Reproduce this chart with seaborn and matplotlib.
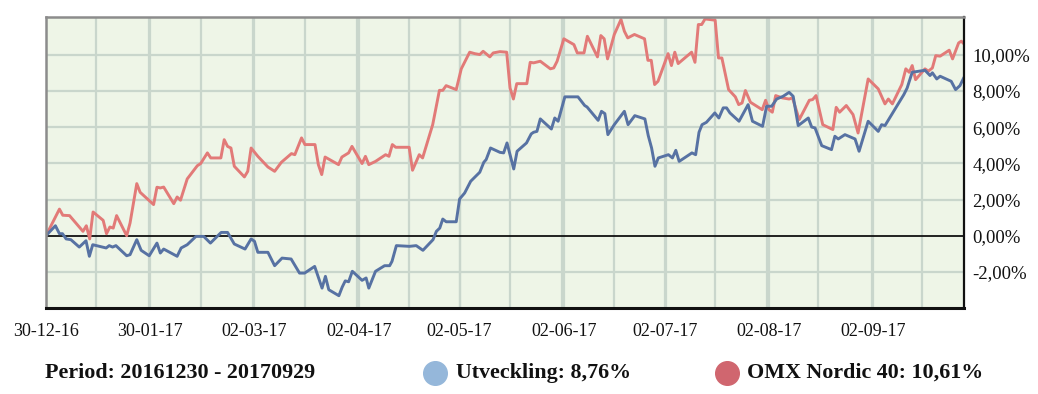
import numpy as np
import pandas as pd
import matplotlib
matplotlib.use("Agg")
import matplotlib.pyplot as plt
import seaborn as sns
from matplotlib.lines import Line2D

# ---------------- data ----------------
START = "2016-12-30"
END = "2017-09-29"

omx_days = [0, 4, 5, 7, 11, 12, 13, 14, 17, 18, 19, 20, 21, 24, 25, 27, 28, 32, 33, 34,
            35, 38, 39, 40, 42, 45, 46, 48, 49, 52, 53, 54, 55, 56, 59, 60, 61, 63, 66, 68,
            70, 73, 74, 76, 77, 80, 81, 82, 83, 87, 88, 90, 91, 94, 95, 96, 98, 101, 102, 103,
            104, 108, 109, 111, 112, 115, 117, 118, 119, 122, 123.5, 126, 127.5, 129, 130, 132, 133, 135, 137, 138,
            139, 140, 143, 144, 145, 147, 150, 151, 152, 154, 157, 158, 160, 161, 164, 165, 166, 167, 169, 171,
            172, 173, 175, 178, 179, 180, 181, 182, 185, 186, 187, 188, 192, 193, 194, 195, 196, 199, 200, 201,
            203, 205, 206, 207, 208, 209.5, 213, 214, 215, 216, 217, 219, 221, 222, 224, 227, 228, 229, 231, 234,
            235, 236, 238, 240, 241.5, 244.5, 247.5, 249.5, 250.5, 251.7, 254.5, 255.7, 256.7, 257.6, 258.6, 261.4, 262.4, 263.6, 264.6, 265.9,
            268.6, 269.6, 271.4, 272.2, 273]
omx_vals = [0.00, 1.47, 1.13, 1.11, 0.24, 0.55, -0.18, 1.31, 0.85, 0.11, 0.48, 0.42, 1.11, 0.00, 0.70, 2.88, 2.40, 1.72, 2.68, 2.64,
            2.69, 1.77, 2.14, 1.96, 3.14, 3.87, 3.99, 4.58, 4.30, 4.30, 5.31, 4.94, 4.85, 3.84, 3.25, 3.56, 4.85, 4.39, 3.80, 3.56,
            4.06, 4.54, 4.48, 5.41, 5.04, 5.04, 3.93, 3.38, 4.35, 3.93, 4.35, 4.58, 4.94, 3.99, 4.39, 3.93, 4.11, 4.48, 4.39, 5.04,
            4.89, 4.89, 3.62, 4.48, 4.30, 6.14, 8.04, 8.04, 8.30, 8.08, 9.23, 10.15, 10.07, 10.02, 10.20, 9.89, 10.11, 10.18, 10.15, 8.17,
            7.56, 8.41, 8.41, 9.59, 9.56, 9.65, 9.23, 9.28, 9.65, 10.89, 10.57, 10.11, 10.11, 11.03, 9.89, 11.07, 10.89, 9.78, 11.13, 11.96,
            11.31, 10.94, 11.13, 10.89, 9.70, 9.70, 8.36, 8.54, 10.07, 9.41, 10.15, 9.52, 10.15, 9.59, 11.68, 11.68, 11.99, 11.92, 9.83, 9.83,
            8.08, 7.68, 7.25, 7.34, 8.03, 7.38, 6.97, 7.49, 6.97, 6.83, 7.75, 7.62, 7.56, 7.62, 6.42, 7.49, 7.53, 7.75, 6.14, 5.87,
            7.10, 6.83, 7.20, 6.70, 5.68, 8.67, 8.12, 7.29, 7.56, 7.29, 8.36, 9.23, 9.04, 9.41, 8.63, 9.23, 9.10, 9.28, 9.96, 9.93,
            10.26, 9.78, 10.66, 10.76, 10.61]

utv_days = [0, 2.8, 4, 4.9, 6, 7.4, 9.9, 11.9, 12.9, 13.9, 17.9, 18.8, 19.8, 20.8, 24, 25, 27, 28.3, 30.7, 33,
            34, 35, 39, 40.2, 42, 44.6, 46.9, 48.9, 52.1, 54, 56, 59.2, 61, 62, 63, 66, 68, 70.2, 72.9, 75.4,
            76.9, 79.9, 82.1, 83.1, 84.1, 87.1, 88.1, 89, 90, 91.1, 94, 95.2, 96, 98, 100.7, 102.2, 102.9, 104.2, 108.1, 110.1,
            112.1, 115.1, 116.1, 117.1, 118, 119, 122, 123, 124.5, 126.3, 129, 130.2, 130.9, 132.2, 135, 136.1, 137.1, 139.1, 140.1, 142.9,
            144.3, 145, 146, 147, 150.3, 151.3, 152.3, 154.3, 158.2, 160.2, 160.9, 164.2, 165.2, 166.2, 167.1, 169, 172, 173.1, 175.1, 178.1,
            179.1, 180.1, 181.1, 182.1, 185.1, 186.3, 187.3, 188.3, 192.1, 193.2, 194.2, 195.1, 196.4, 198.9, 200.1, 201.4, 202.4, 203.4, 206.1, 208.8,
            210.1, 213.1, 214.3, 215.8, 217.3, 219.2, 221, 222.2, 223.7, 226.7, 227.7, 228.7, 230.7, 233.6, 234.6, 235.6, 237.6, 240.6, 241.8, 244.5,
            247.5, 248.5, 249.5, 252.5, 255.1, 256.1, 257.6, 261.4, 262.9, 263.6, 264.9, 265.9, 269.2, 270.5, 271.8, 273]
utv_vals = [0.00, 0.55, 0.11, 0.11, -0.18, -0.22, -0.63, -0.28, -1.14, -0.50, -0.68, -0.55, -0.63, -0.55, -1.11, -1.05, -0.22, -0.81, -1.11, -0.41,
            -0.96, -0.74, -1.14, -0.68, -0.50, -0.04, -0.04, -0.41, 0.18, 0.18, -0.46, -0.74, -0.18, -0.31, -0.92, -0.92, -1.66, -1.24, -1.29, -2.07,
            -2.07, -1.70, -2.90, -2.25, -2.99, -3.32, -2.84, -2.50, -2.55, -1.97, -2.47, -2.34, -2.90, -1.97, -1.66, -1.66, -1.42, -0.55, -0.59, -0.55,
            -0.81, -0.22, 0.24, 0.42, 0.92, 0.77, 0.77, 2.03, 2.36, 3.01, 3.51, 4.06, 4.21, 4.85, 4.61, 4.58, 5.13, 3.69, 4.67, 5.13,
            5.63, 5.72, 5.77, 6.46, 5.90, 6.51, 6.33, 7.68, 7.68, 7.20, 7.12, 6.38, 6.88, 6.75, 5.59, 6.14, 6.88, 6.14, 6.64, 6.46,
            5.54, 4.85, 3.84, 4.30, 4.48, 4.30, 4.72, 4.11, 4.58, 4.48, 5.72, 6.14, 6.27, 6.79, 6.51, 7.07, 7.07, 6.79, 6.33, 7.25,
            6.33, 6.05, 7.16, 7.16, 7.56, 7.71, 7.93, 7.71, 6.09, 6.51, 6.01, 5.96, 4.98, 4.76, 5.50, 5.35, 5.59, 5.35, 4.67, 6.33,
            5.77, 6.14, 6.09, 7.01, 7.80, 8.17, 9.04, 9.15, 8.86, 9.01, 8.67, 8.82, 8.54, 8.08, 8.30, 8.76]

tick_dates = ["2016-12-30", "2017-01-30", "2017-03-02", "2017-04-02", "2017-05-02",
              "2017-06-02", "2017-07-02", "2017-08-02", "2017-09-02"]
tick_labels = ["30-12-16", "30-01-17", "02-03-17", "02-04-17", "02-05-17",
               "02-06-17", "02-07-17", "02-08-17", "02-09-17"]
y_ticks = [-2, 0, 2, 4, 6, 8, 10]
y_labels = ["-2,00%", "0,00%", "2,00%", "4,00%", "6,00%", "8,00%", "10,00%"]
period_text = "Period: 20161230 - 20170929"
utv_name = "Utveckling: 8,76%"
omx_name = "OMX Nordic 40: 10,61%"

# ---------------- style ----------------
BG = "#EEF5E7"
GRID = "#C9D6CC"
BLUE_LINE = "#5772A3"
RED_LINE = "#E27A78"
BLUE_DOT = "#95B7DA"
RED_DOT = "#D0666F"

sns.set_style("white")
plt.rcParams["font.family"] = ["Liberation Serif", "DejaVu Serif"]

start = pd.Timestamp(START)
end = pd.Timestamp(END)

df = pd.concat([
    pd.DataFrame({"date": start + pd.to_timedelta(omx_days, unit="D"), "value": omx_vals, "series": omx_name}),
    pd.DataFrame({"date": start + pd.to_timedelta(utv_days, unit="D"), "value": utv_vals, "series": utv_name}),
], ignore_index=True)

fig = plt.figure(figsize=(10.38, 3.94), dpi=100)
ax = fig.add_axes([0.0443, 0.2183, 0.8844, 0.7387])
ax.set_facecolor(BG)

# grid lines
grid_days = [15, 30.5, 46, 61.5, 77, 92.5, 108, 123, 138, 153.5, 169, 184.5,
             199, 214.5, 229.5, 245.5, 260.5]
for d in grid_days:
    ax.axvline(start + pd.Timedelta(days=d), color=GRID, lw=1.6, zorder=0)
for t in tick_dates[1:]:
    ax.axvline(pd.Timestamp(t), color=GRID, lw=1.6, zorder=0)
for yv in [-2, 2, 4, 6, 8, 10]:
    ax.axhline(yv, color=GRID, lw=1.6, zorder=0)
ax.axhline(0, color="#111111", lw=1.3, zorder=1)

sns.lineplot(data=df, x="date", y="value", hue="series",
             palette={omx_name: RED_LINE, utv_name: BLUE_LINE},
             hue_order=[omx_name, utv_name], linewidth=2.1, legend=False,
             ax=ax, zorder=3, estimator=None, sort=False)

ax.set_xlim(start, end)
ax.set_ylim(-4, 12.1)
ax.set_xlabel("")
ax.set_ylabel("")

ax.set_xticks(pd.to_datetime(tick_dates))
ax.set_xticklabels(tick_labels)
ax.yaxis.tick_right()
ax.set_yticks(y_ticks)
ax.set_yticklabels(y_labels)
ax.tick_params(axis="x", length=0, pad=11, labelsize=13, colors="#111111")
ax.tick_params(axis="y", length=0, pad=6, labelsize=13.5, colors="#111111")

for side in ["left", "top"]:
    ax.spines[side].set_color("#8C8C8C")
    ax.spines[side].set_linewidth(1.8)
ax.spines["right"].set_color("#111111")
ax.spines["right"].set_linewidth(1.6)
ax.spines["bottom"].set_color("#111111")
ax.spines["bottom"].set_linewidth(2.2)
for s in ax.spines.values():
    s.set_visible(True)
    s.set_zorder(4)

# legend row
ty = 1 - 373 / 394
fig.text(45 / 1038, ty, period_text, fontsize=15.8, fontweight="bold",
         va="center", ha="left", color="#111111")
fig.add_artist(Line2D([435 / 1038], [ty], marker="o", markersize=17,
                      color=BLUE_DOT, linestyle="none", transform=fig.transFigure))
fig.text(456 / 1038, ty, utv_name, fontsize=15.8, fontweight="bold",
         va="center", ha="left", color="#111111")
fig.add_artist(Line2D([727 / 1038], [ty], marker="o", markersize=17,
                      color=RED_DOT, linestyle="none", transform=fig.transFigure))
fig.text(747 / 1038, ty, omx_name, fontsize=15.8, fontweight="bold",
         va="center", ha="left", color="#111111")

fig.savefig("out.png", dpi=100, facecolor="white")
